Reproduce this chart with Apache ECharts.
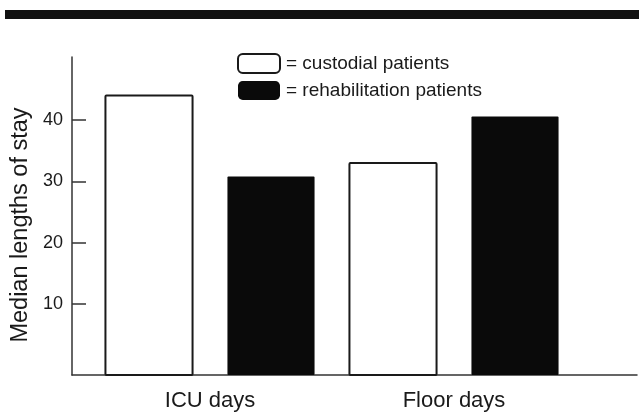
<!DOCTYPE html>
<html>
<head>
<meta charset="utf-8">
<script src="https://cdn.jsdelivr.net/npm/echarts@6/dist/echarts.min.js"></script>
<style>
  html, body { margin: 0; padding: 0; background: #fff; }
  #chart { width: 639px; height: 413px; }
</style>
</head>
<body>
<div id="chart"></div>
<script>
// ---- data ----
const categories = ['ICU days', 'Floor days'];
const custodial = [44, 33];
const rehabilitation = [30.8, 40.6];
const yTicks = [10, 20, 30, 40];
const yAxisName = 'Median lengths of stay';
const seriesNames = ['custodial patients', 'rehabilitation patients'];

// ---- layout / style constants ----
const Y_MIN = -1.6, Y_MAX = 50.3;
const BAR_FRAC = 0.357, OFFSET_FRAC = 0.25;
const FONT = 'Liberation Sans, Arial, Helvetica, sans-serif';
const INK = '#1a1a1a';

const chart = echarts.init(document.getElementById('chart'), null, { renderer: 'canvas' });

function barRenderer(offsetSign, style) {
  return function (params, api) {
    const cat = api.value(0);
    const v = api.value(1);
    const band = api.size([1, 0])[0];
    const top = api.coord([cat, v]);
    const base = api.coord([cat, Y_MIN]);
    const w = band * BAR_FRAC;
    const cx = top[0] + offsetSign * band * OFFSET_FRAC;
    return {
      type: 'rect',
      shape: { x: cx - w / 2, y: top[1], width: w, height: base[1] - top[1], r: 1 },
      style: style
    };
  };
}

const option = {
  backgroundColor: '#ffffff',
  animation: false,
  graphic: [{
    type: 'rect', left: 5, top: 10,
    shape: { width: 634, height: 9 },
    style: { fill: '#111' }
  }],
  legend: {
    orient: 'vertical',
    left: 237, top: 53, padding: 0,
    itemWidth: 42, itemHeight: 19, itemGap: 7,
    icon: 'roundRect',
    selectedMode: false,
    formatter: n => '= ' + n,
    textStyle: { fontFamily: FONT, fontSize: 19, color: INK, padding: [0, 0, 0, 1] },
    data: [
      { name: seriesNames[0], itemStyle: { color: '#fff', borderColor: INK, borderWidth: 2 } },
      { name: seriesNames[1], itemStyle: { color: '#0a0a0a', borderWidth: 0 } }
    ]
  },
  grid: [
    { left: 72, right: 2, top: 57, bottom: 38 },
    { left: 88, width: 488, top: 57, bottom: 38 }
  ],
  xAxis: [
    {
      gridIndex: 0, type: 'value', min: 0, max: 1,
      axisLine: { show: true, onZero: false, lineStyle: { color: '#333', width: 1.5 } },
      axisTick: { show: false }, axisLabel: { show: false }, splitLine: { show: false }
    },
    {
      gridIndex: 1, type: 'category', data: categories,
      axisLine: { show: false }, axisTick: { show: false }, splitLine: { show: false },
      axisLabel: { fontFamily: FONT, fontSize: 22, color: INK, margin: 15 }
    }
  ],
  yAxis: [
    {
      gridIndex: 0, type: 'value', min: Y_MIN, max: Y_MAX,
      name: yAxisName, nameLocation: 'middle', nameRotate: 90, nameGap: 38,
      nameTextStyle: { fontFamily: FONT, fontSize: 23.5, color: INK, padding: [0, 18, 0, 0] },
      axisLine: { show: true, lineStyle: { color: '#333', width: 1.5 } },
      axisTick: { show: true, inside: true, length: 14, customValues: yTicks, lineStyle: { color: '#333', width: 1.5 } },
      axisLabel: { fontFamily: FONT, fontSize: 18, color: INK, margin: 9, customValues: yTicks },
      splitLine: { show: false }
    },
    {
      gridIndex: 1, type: 'value', min: Y_MIN, max: Y_MAX, show: false
    }
  ],
  series: [
    {
      name: seriesNames[0], type: 'custom', xAxisIndex: 1, yAxisIndex: 1,
      itemStyle: { color: '#fff', borderColor: INK, borderWidth: 2 },
      renderItem: barRenderer(-1, { fill: '#fff', stroke: INK, lineWidth: 2 }),
      data: categories.map((c, i) => [i, custodial[i]]),
      encode: { x: 0, y: 1 }
    },
    {
      name: seriesNames[1], type: 'custom', xAxisIndex: 1, yAxisIndex: 1,
      itemStyle: { color: '#0a0a0a' },
      renderItem: barRenderer(1, { fill: '#0a0a0a' }),
      data: categories.map((c, i) => [i, rehabilitation[i]]),
      encode: { x: 0, y: 1 }
    }
  ]
};
chart.setOption(option);
</script>
</body>
</html>
